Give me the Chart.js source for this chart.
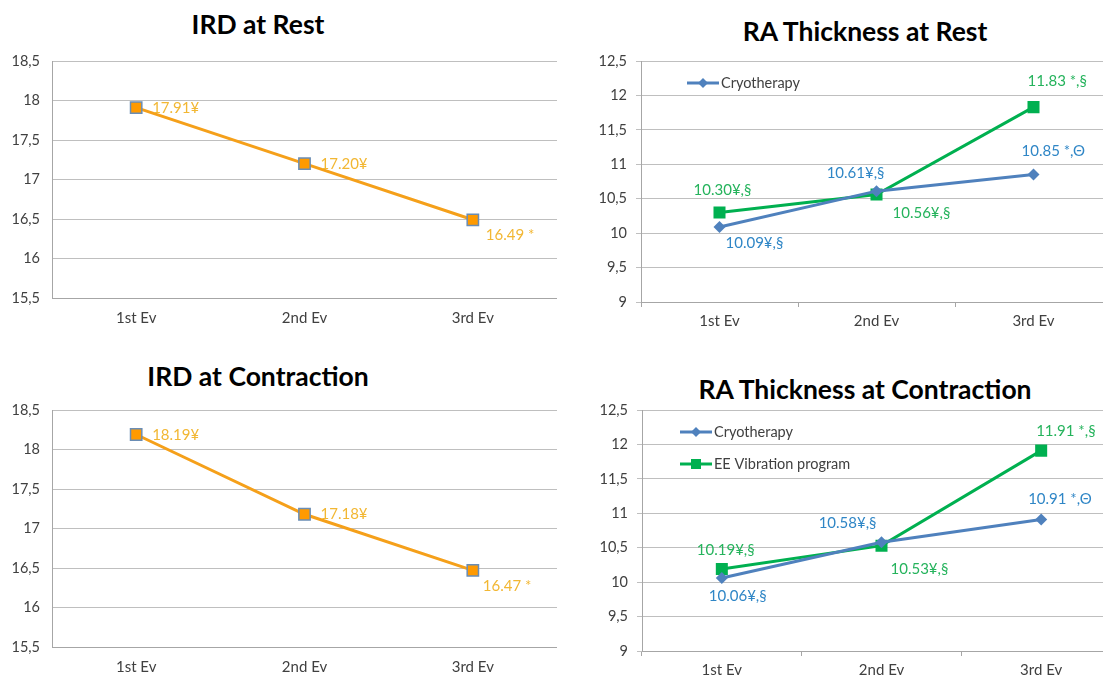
<!DOCTYPE html>
<html>
<head>
<meta charset="utf-8">
<script src="https://cdn.jsdelivr.net/npm/chart.js@4.4.1/dist/chart.umd.min.js"></script>
<style>
    html, body { margin: 0; padding: 0; background: #fff; }
    body { position: relative; width: 1103px; height: 675px; overflow: hidden; }
    .box { position: absolute; }
    .title {
        position: absolute;
        transform: translate(-50%, -50%);
        font-family: Lato, sans-serif;
        font-weight: bold;
        font-size: 26.5px;
        color: #000;
        white-space: nowrap;
    }
</style>
</head>
<body>
<div class="title" style="left:258px; top:24px">IRD at Rest</div>
<div class="title" style="left:865px; top:31px">RA Thickness at Rest</div>
<div class="title" style="left:258px; top:376px">IRD at Contraction</div>
<div class="title" style="left:865px; top:389px">RA Thickness at Contraction</div>

<div class="box" style="left:0; top:0; width:557px; height:340px"><canvas id="irdRest"></canvas></div>
<div class="box" style="left:560px; top:0; width:552px; height:340px"><canvas id="raRest"></canvas></div>
<div class="box" style="left:0; top:340px; width:557px; height:360px"><canvas id="irdContr"></canvas></div>
<div class="box" style="left:560px; top:340px; width:561px; height:360px"><canvas id="raContr"></canvas></div>

<script>
const evaluations = ["1st Ev", "2nd Ev", "3rd Ev"];

const irdRest = [17.91, 17.20, 16.49];
const irdRestMarks = ["¥", "¥", " *"];
const irdContr = [18.19, 17.18, 16.47];
const irdContrMarks = ["¥", "¥", " *"];

const raRestCryo = [10.09, 10.61, 10.85];
const raRestCryoMarks = ["¥,§", "¥,§", " *,Θ"];
const raRestVib = [10.30, 10.56, 11.83];
const raRestVibMarks = ["¥,§", "¥,§", " *,§"];

const raContrCryo = [10.06, 10.58, 10.91];
const raContrCryoMarks = ["¥,§", "¥,§", " *,Θ"];
const raContrVib = [10.19, 10.53, 11.91];
const raContrVibMarks = ["¥,§", "¥,§", " *,§"];

const irdTicks = ["15,5", "16", "16,5", "17", "17,5", "18", "18,5"];
const raTicks = ["9", "9,5", "10", "10,5", "11", "11,5", "12", "12,5"];

const FONT = "Lato, sans-serif";
const ORANGE = "#F5A01A";
const BLUE = "#4F81BD";
const GREEN = "#00B050";

// value labels next to each point
const pointLabels = {
    id: "pointLabels",
    afterDatasetsDraw(chart) {
        const ctx = chart.ctx;
        chart.data.datasets.forEach((ds, i) => {
            const meta = chart.getDatasetMeta(i);
            ctx.save();
            ctx.font = "15px " + FONT;
            ctx.fillStyle = ds.labelColor;
            ctx.textBaseline = "middle";
            meta.data.forEach((pt, j) => {
                const place = ds.labelPlace[j];
                ctx.textAlign = place[2];
                ctx.fillText(ds.data[j].toFixed(2) + ds.marks[j], pt.x + place[0], pt.y + place[1]);
            });
            ctx.restore();
        });
    }
};

function drawMarker(ctx, style, x, y, r) {
    ctx.beginPath();
    if (style === "rectRot") {
        ctx.moveTo(x, y - r);
        ctx.lineTo(x + r, y);
        ctx.lineTo(x, y + r);
        ctx.lineTo(x - r, y);
        ctx.closePath();
    } else {
        ctx.rect(x - r, y - r, 2 * r, 2 * r);
    }
    ctx.fill();
}

// legend drawn inside the plot area
const insideLegend = {
    id: "insideLegend",
    afterDraw(chart, args, opts) {
        if (!opts.items) return;
        const ctx = chart.ctx;
        const area = chart.chartArea;
        opts.items.forEach((idx, row) => {
            const ds = chart.data.datasets[idx];
            const x = area.left + opts.x;
            const y = area.top + opts.y + row * opts.gap;
            ctx.save();
            ctx.strokeStyle = ds.borderColor;
            ctx.lineWidth = 3;
            ctx.beginPath();
            ctx.moveTo(x, y);
            ctx.lineTo(x + 32, y);
            ctx.stroke();
            ctx.fillStyle = ds.borderColor;
            drawMarker(ctx, ds.pointStyle, x + 16, y, 5);
            ctx.fillStyle = "#404040";
            ctx.font = "14.5px " + FONT;
            ctx.textBaseline = "middle";
            ctx.textAlign = "left";
            ctx.fillText(ds.label, x + 34, y);
            ctx.restore();
        });
    }
};

function orangeSet(label, data, marks, place) {
    return {
        label, data, marks,
        labelPlace: place,
        labelColor: "#F2B733",
        borderColor: ORANGE,
        borderWidth: 3,
        pointStyle: "rect",
        pointRadius: 8,
        pointBackgroundColor: "#FF9A00",
        pointBorderColor: "#6A8DB5",
        pointBorderWidth: 1.5,
        tension: 0
    };
}

function cryoSet(data, marks, place) {
    return {
        label: "Cryotherapy", data, marks,
        labelPlace: place,
        labelColor: "#2F86C6",
        borderColor: BLUE,
        borderWidth: 3,
        pointStyle: "rectRot",
        pointRadius: 6,
        pointBackgroundColor: BLUE,
        pointBorderColor: BLUE,
        pointBorderWidth: 0,
        tension: 0
    };
}

function vibSet(data, marks, place) {
    return {
        label: "EE Vibration program", data, marks,
        labelPlace: place,
        labelColor: "#25B35C",
        borderColor: GREEN,
        borderWidth: 3,
        pointStyle: "rect",
        pointRadius: 8.5,
        pointBackgroundColor: GREEN,
        pointBorderColor: GREEN,
        pointBorderWidth: 0,
        tension: 0
    };
}

function makeChart(id, cfg) {
    return new Chart(document.getElementById(id), {
        type: "line",
        data: { labels: evaluations, datasets: cfg.datasets },
        options: {
            responsive: true,
            maintainAspectRatio: false,
            animation: false,
            layout: { autoPadding: false, padding: { top: cfg.top, left: 0, right: 0, bottom: 0 } },
            plugins: {
                legend: { display: false },
                tooltip: { enabled: false },
                insideLegend: cfg.legend || {}
            },
            scales: {
                x: {
                    offset: true,
                    grid: {
                        offset: true,
                        drawOnChartArea: false,
                        drawTicks: cfg.ticks,
                        tickLength: 5,
                        color: "#A6A6A6"
                    },
                    border: { color: "#A6A6A6" },
                    ticks: { color: "#404040", font: { family: FONT, size: 15 }, padding: cfg.xPad },
                    afterFit: s => {
                        s.height = cfg.xHeight;
                        s.paddingLeft = 0;
                        s.paddingRight = 0;
                    }
                },
                y: {
                    min: cfg.min,
                    max: cfg.max,
                    grid: { color: "#BFBFBF", drawTicks: cfg.ticks, tickLength: 5 },
                    border: { color: "#A6A6A6" },
                    ticks: {
                        stepSize: 0.5,
                        color: "#404040",
                        font: { family: FONT, size: 14.5 },
                        padding: cfg.yPad,
                        callback: (v, i) => cfg.tickLabels[i]
                    },
                    afterFit: s => { s.width = cfg.yWidth; }
                }
            }
        },
        plugins: [pointLabels, insideLegend]
    });
}

makeChart("irdRest", {
    top: 61, xHeight: 42, xPad: 11, yWidth: 52, yPad: 12, ticks: false,
    min: 15.5, max: 18.5, tickLabels: irdTicks,
    datasets: [orangeSet("IRD at Rest", irdRest, irdRestMarks,
        [[16, 1, "left"], [16, 0, "left"], [13, 15, "left"]])]
});

makeChart("raRest", {
    top: 61, xHeight: 38, xPad: 5, yWidth: 81, yPad: 9, ticks: true,
    min: 9, max: 12.5, tickLabels: raTicks,
    legend: { items: [0], x: 46, y: 22, gap: 32 },
    datasets: [
        cryoSet(raRestCryo, raRestCryoMarks, [[6, 16, "left"], [8, -18, "right"], [-12, -23, "left"]]),
        vibSet(raRestVib, raRestVibMarks, [[3, -22, "center"], [16, 19, "left"], [-6, -26, "left"]])
    ]
});

makeChart("irdContr", {
    top: 70, xHeight: 53, xPad: 11, yWidth: 52, yPad: 12, ticks: false,
    min: 15.5, max: 18.5, tickLabels: irdTicks,
    datasets: [orangeSet("IRD at Contraction", irdContr, irdContrMarks,
        [[16, 1, "left"], [16, 0, "left"], [10, 16, "left"]])]
});

makeChart("raContr", {
    top: 70, xHeight: 49, xPad: 5, yWidth: 82, yPad: 9, ticks: true,
    min: 9, max: 12.5, tickLabels: raTicks,
    legend: { items: [0, 1], x: 38, y: 22, gap: 32 },
    datasets: [
        cryoSet(raContrCryo, raContrCryoMarks, [[-13, 18, "left"], [-5, -19, "right"], [-13, -20, "left"]]),
        vibSet(raContrVib, raContrVibMarks, [[-25, -19, "left"], [9, 24, "left"], [-5, -19, "left"]])
    ]
});
</script>
</body>
</html>
